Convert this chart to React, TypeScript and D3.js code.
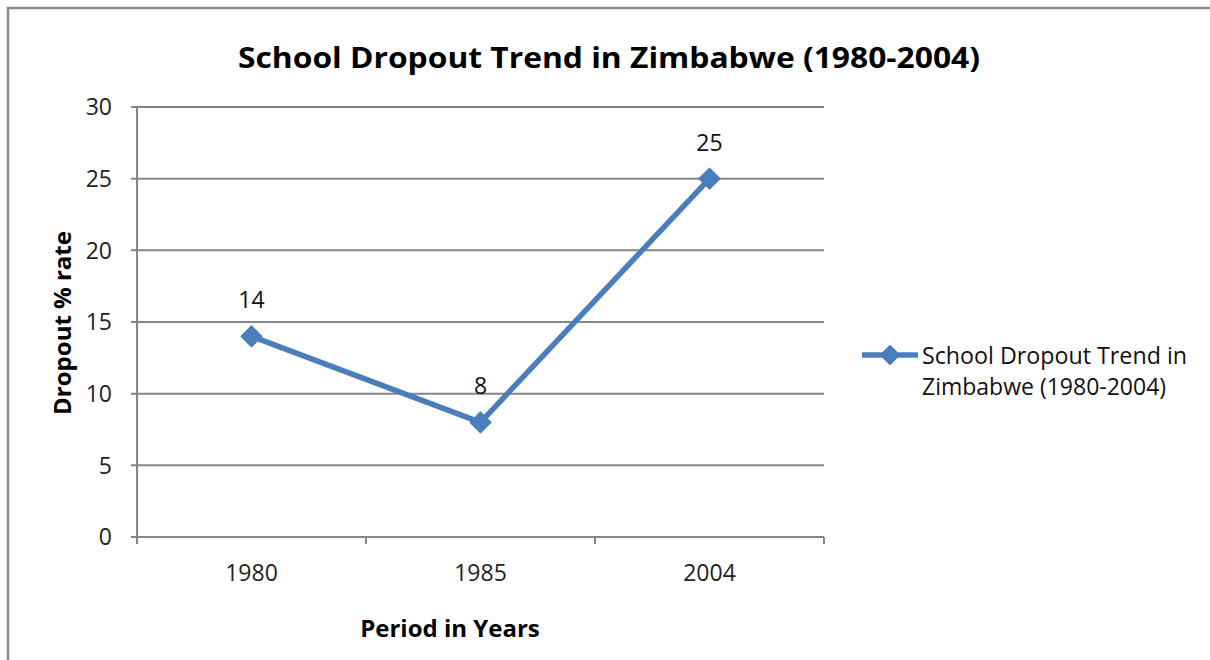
import React from "react";
import * as d3 from "d3";

const categories: string[] = ["1980", "1985", "2004"];
const values: number[] = [14, 8, 25];
const yTicks: number[] = [0, 5, 10, 15, 20, 25, 30];
const titleText = "School Dropout Trend in Zimbabwe (1980-2004)";
const seriesName: string[] = ["School Dropout Trend in", "Zimbabwe (1980-2004)"];
const xLabel = "Period in Years";
const yLabel = "Dropout % rate";

const W = 1210;
const H = 660;
const plot = { left: 137, right: 824, top: 107, bottom: 537 };
const LINE = "#4A7EBB";
const GRID = "#868686";
const FONT = "'Open Sans', 'Liberation Sans', sans-serif";

export default function App() {
  const x = d3.scaleBand<string>().domain(categories).range([plot.left, plot.right]).padding(0);
  const y = d3.scaleLinear().domain([0, 30]).range([plot.bottom, plot.top]);
  const cx = (c: string) => (x(c) ?? 0) + x.bandwidth() / 2;
  const pts: [number, number][] = categories.map((c, i) => [cx(c), y(values[i])]);
  const line = d3.line<[number, number]>().x((d) => d[0]).y((d) => d[1]);
  const diamond = (px: number, py: number, r: number) =>
    `M${px},${py - r}L${px + r},${py}L${px},${py + r}L${px - r},${py}Z`;
  const xTickPos = [plot.left, ...categories.map((c) => (x(c) ?? 0) + x.bandwidth())];

  return (
    <svg width={W} height={H} style={{ position: "absolute", left: 0, top: 0, background: "#fff" }} fontFamily={FONT}>
      <rect x={0} y={0} width={W} height={H} fill="#fff" />
      <path d={`M8,${H + 5}L8,8L${W + 5},8`} fill="none" stroke="#8a8a8a" strokeWidth={2.5} />
      <text x={609} y={68} textAnchor="middle" fontSize={28} fontWeight="bold" fill="#000" textLength={742} lengthAdjust="spacingAndGlyphs">
        {titleText}
      </text>
      {/* gridlines */}
      {yTicks.map((t) => (
        <line key={"g" + t} x1={plot.left - 6} x2={plot.right} y1={y(t)} y2={y(t)} stroke={GRID} strokeWidth={2} />
      ))}
      {/* y axis */}
      <line x1={plot.left} x2={plot.left} y1={plot.top} y2={plot.bottom} stroke={GRID} strokeWidth={2} />
      {yTicks.map((t) => (
        <text key={"yl" + t} x={112} y={y(t)} dy="0.36em" textAnchor="end" fontSize={23} fill="#222">
          {t}
        </text>
      ))}
      {/* x ticks */}
      {xTickPos.map((p, i) => (
        <line key={"xt" + i} x1={p} x2={p} y1={plot.bottom} y2={plot.bottom + 7} stroke={GRID} strokeWidth={2} />
      ))}
      {categories.map((c) => (
        <text key={"xl" + c} x={cx(c)} y={581} textAnchor="middle" fontSize={23} fill="#222">
          {c}
        </text>
      ))}
      {/* axis titles */}
      <text x={450} y={637} textAnchor="middle" fontSize={24} fontWeight="bold" fill="#000">
        {xLabel}
      </text>
      <text transform={`translate(71,323) rotate(-90)`} textAnchor="middle" fontSize={24} fontWeight="bold" fill="#000">
        {yLabel}
      </text>
      {/* series */}
      <path d={line(pts) ?? ""} fill="none" stroke={LINE} strokeWidth={5.5} strokeLinejoin="round" />
      {pts.map((p, i) => (
        <path key={"m" + i} d={diamond(p[0], p[1], 10)} fill={LINE} stroke={LINE} strokeWidth={2} strokeLinejoin="round" />
      ))}
      {pts.map((p, i) => (
        <text key={"dl" + i} x={p[0]} y={p[1] - 28} textAnchor="middle" fontSize={23} fill="#111">
          {values[i]}
        </text>
      ))}
      {/* legend */}
      <line x1={862} x2={918} y1={355} y2={355} stroke={LINE} strokeWidth={5.5} />
      <path d={diamond(890, 355, 9)} fill={LINE} stroke={LINE} strokeWidth={2} strokeLinejoin="round" />
      <text x={922} y={364} fontSize={23} fill="#111" textLength={265} lengthAdjust="spacingAndGlyphs">{seriesName[0]}</text>
      <text x={922} y={395} fontSize={23} fill="#111">{seriesName[1]}</text>
    </svg>
  );
}
